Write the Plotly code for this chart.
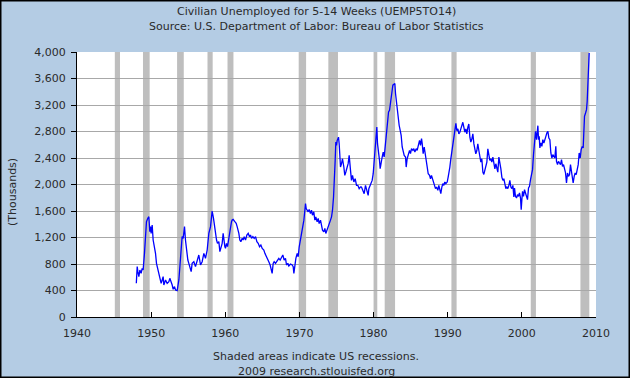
import plotly.graph_objects as go

# ---- data, decimal year / thousands ----
t_a = [1948.00, 1948.12, 1948.21, 1948.34, 1948.48, 1948.65, 1948.79, 1948.92, 1949.10, 1949.24,
       1949.37, 1949.55, 1949.69, 1949.82, 1949.91, 1950.00, 1950.14, 1950.27, 1950.45, 1950.59,
       1950.72, 1950.90, 1951.04, 1951.26, 1951.35, 1951.49, 1951.62, 1951.71, 1951.94, 1952.16,
       1952.39, 1952.52, 1952.70, 1952.84, 1952.97, 1953.15, 1953.29, 1953.51, 1953.74, 1953.96,
       1954.05, 1954.18, 1954.32, 1954.41, 1954.50, 1954.63, 1954.77, 1954.95, 1955.08, 1955.22,
       1955.40, 1955.53, 1955.76, 1955.98, 1956.21, 1956.43, 1956.66, 1956.88, 1957.11, 1957.33,
       1957.56, 1957.78, 1958.01]
v_a = [510, 760, 684, 609, 709, 659, 735, 709, 961, 1313,
       1439, 1489, 1514, 1288, 1364, 1263, 1389, 1162, 1062, 961,
       810, 735, 659, 584, 508, 559, 609, 483, 559, 508,
       533, 584, 533, 483, 418, 458, 408, 398, 559, 911,
       1112, 1213, 1187, 1263, 1364, 1162, 1011, 860, 810, 760,
       684, 810, 835, 760, 860, 936, 785, 835, 961, 886,
       1011, 1263, 1364]

t_b = [1958.14, 1958.23, 1958.41, 1958.55, 1958.68, 1958.82, 1958.95, 1959.13, 1959.27, 1959.40,
       1959.58, 1959.71, 1959.80, 1959.94, 1960.03, 1960.16, 1960.30, 1960.48, 1960.57, 1960.70,
       1960.84, 1960.93, 1961.06, 1961.29, 1961.47, 1961.60, 1961.74, 1961.83, 1961.96, 1962.10,
       1962.28, 1962.41, 1962.55, 1962.73, 1962.91, 1963.09, 1963.27, 1963.40, 1963.54, 1963.72,
       1963.90, 1964.08, 1964.26, 1964.44, 1964.62, 1964.80, 1964.98, 1965.20, 1965.34, 1965.51,
       1965.69, 1965.87, 1966.05, 1966.19, 1966.32, 1966.46, 1966.59, 1966.77, 1967.00, 1967.22,
       1967.40, 1967.58, 1967.76, 1967.94, 1968.12]
v_b = [1590, 1600, 1489, 1364, 1313, 1162, 1112, 1137, 986, 1062,
       1112, 1263, 1162, 1062, 1036, 1112, 1062, 1213, 1288, 1364,
       1439, 1464, 1474, 1439, 1414, 1364, 1313, 1263, 1162, 1137,
       1187, 1162, 1213, 1162, 1238, 1263, 1213, 1238, 1187, 1213,
       1187, 1213, 1137, 1112, 1062, 1087, 1036, 1011, 961, 911,
       860, 835, 785, 735, 659, 810, 835, 810, 850, 886,
       860, 911, 936, 860, 886]

t_c = [1968.26, 1968.44, 1968.57, 1968.80, 1969.02, 1969.16, 1969.25, 1969.38, 1969.52, 1969.70,
       1969.83, 1969.97, 1970.10, 1970.24, 1970.37, 1970.51, 1970.60, 1970.69, 1970.82, 1970.91,
       1971.05, 1971.18, 1971.31, 1971.49, 1971.63, 1971.76, 1971.94, 1972.08, 1972.21, 1972.39,
       1972.53, 1972.66, 1972.84, 1972.98, 1973.11, 1973.29, 1973.43, 1973.56, 1973.74, 1973.88,
       1974.01, 1974.19, 1974.33, 1974.46, 1974.60, 1974.73, 1974.82, 1974.91, 1975.00, 1975.09,
       1975.18, 1975.27, 1975.36, 1975.45, 1975.54, 1975.68, 1975.81, 1975.99, 1976.12, 1976.26,
       1976.44, 1976.57, 1976.71, 1976.80, 1976.89, 1977.02, 1977.16, 1977.34, 1977.52, 1977.70,
       1977.88, 1978.06, 1978.24]
v_c = [785, 810, 770, 800, 785, 760, 659, 810, 885, 960,
       910, 1060, 1136, 1261, 1336, 1361, 1462, 1562, 1712, 1637,
       1612, 1587, 1622, 1562, 1612, 1537, 1587, 1462, 1512, 1436,
       1487, 1411, 1462, 1361, 1311, 1286, 1336, 1261, 1311, 1361,
       1411, 1462, 1512, 1612, 1812, 2063, 2364, 2640, 2589, 2665,
       2690, 2715, 2615, 2414, 2264, 2314, 2389, 2264, 2138, 2188,
       2264, 2314, 2439, 2364, 2213, 2063, 2138, 2038, 2088, 1988,
       1988, 1938, 1963]

t_d = [1978.37, 1978.55, 1978.73, 1978.91, 1979.09, 1979.27, 1979.36, 1979.54, 1979.68, 1979.81,
       1979.95, 1980.08, 1980.22, 1980.35, 1980.44, 1980.53, 1980.67, 1980.80, 1980.89, 1981.03,
       1981.16, 1981.30, 1981.43, 1981.52, 1981.61, 1981.75, 1981.88, 1982.02, 1982.15, 1982.24,
       1982.38, 1982.51, 1982.60, 1982.74, 1982.87, 1982.96, 1983.05, 1983.18, 1983.32, 1983.45,
       1983.59, 1983.72, 1983.86, 1983.99, 1984.13, 1984.31, 1984.40, 1984.53, 1984.67, 1984.85,
       1984.98, 1985.12, 1985.30, 1985.43, 1985.57, 1985.75, 1985.88, 1986.02, 1986.20, 1986.33,
       1986.47, 1986.56, 1986.69, 1986.83, 1986.92, 1987.10, 1987.23, 1987.37, 1987.55, 1987.68,
       1987.81, 1987.99, 1988.13, 1988.26]
v_d = [1961, 1910, 1860, 1986, 1910, 1835, 1936, 1986, 2011, 2062,
       2163, 2364, 2566, 2743, 2869, 2616, 2516, 2364, 2238, 2364,
       2415, 2490, 2415, 2516, 2616, 2768, 2919, 3096, 3121, 3222,
       3373, 3423, 3499, 3514, 3524, 3373, 3272, 3171, 2944, 2894,
       2818, 2743, 2566, 2516, 2440, 2415, 2263, 2389, 2440, 2516,
       2465, 2541, 2516, 2541, 2490, 2541, 2516, 2566, 2667, 2591,
       2692, 2616, 2465, 2566, 2490, 2415, 2263, 2162, 2137, 2087,
       2137, 2062, 2036, 1961]

t_e = [1988.35, 1988.49, 1988.67, 1988.80, 1988.94, 1989.07, 1989.21, 1989.34, 1989.48, 1989.61,
       1989.75, 1989.93, 1990.06, 1990.20, 1990.29, 1990.42, 1990.56, 1990.69, 1990.83, 1990.96,
       1991.10, 1991.23, 1991.37, 1991.50, 1991.64, 1991.77, 1991.91, 1992.04, 1992.18, 1992.31,
       1992.45, 1992.58, 1992.72, 1992.85, 1992.99, 1993.12, 1993.26, 1993.39, 1993.53, 1993.66,
       1993.79, 1993.93, 1994.06, 1994.20, 1994.33, 1994.47, 1994.60, 1994.74, 1994.87, 1995.01,
       1995.14, 1995.28, 1995.41, 1995.55, 1995.68, 1995.82, 1995.95, 1996.09, 1996.22, 1996.36,
       1996.49, 1996.63, 1996.76, 1996.90, 1997.03, 1997.17, 1997.30, 1997.44, 1997.57, 1997.71,
       1997.84, 1997.98, 1998.11, 1998.25, 1998.38, 1998.52, 1998.65, 1998.79, 1998.92]
v_e = [1937, 1962, 1912, 1987, 1937, 1862, 1962, 2012, 1987, 2037,
       2012, 2037, 2112, 2187, 2263, 2388, 2513, 2613, 2714, 2814,
       2924, 2814, 2839, 2764, 2789, 2839, 2889, 2939, 2864, 2789,
       2839, 2764, 2864, 2914, 2714, 2639, 2689, 2764, 2613, 2538,
       2463, 2513, 2613, 2513, 2438, 2338, 2388, 2187, 2152, 2212,
       2263, 2338, 2538, 2463, 2363, 2388, 2338, 2413, 2288, 2237,
       2313, 2237, 2187, 2413, 2338, 2237, 2112, 2062, 2087, 1987,
       1937, 1962, 1937, 1987, 2062, 1962, 1937, 1987, 1812]

t_f = [1999.01, 1999.14, 1999.28, 1999.41, 1999.55, 1999.68, 1999.82, 1999.91, 2000.00, 2000.09,
       2000.22, 2000.36, 2000.49, 2000.63, 2000.76, 2000.90, 2001.03, 2001.17, 2001.30, 2001.44,
       2001.57, 2001.71, 2001.84, 2001.98, 2002.07, 2002.16, 2002.25, 2002.34, 2002.43, 2002.56,
       2002.70, 2002.83, 2002.97, 2003.10, 2003.24, 2003.37, 2003.51, 2003.64, 2003.78, 2003.91,
       2004.05, 2004.18, 2004.32, 2004.45, 2004.58, 2004.67, 2004.81, 2004.94, 2005.08, 2005.21,
       2005.35, 2005.48, 2005.62, 2005.75, 2005.89, 2006.02, 2006.16, 2006.29, 2006.43, 2006.56,
       2006.70, 2006.83, 2006.92, 2007.06, 2007.19, 2007.33, 2007.46, 2007.60, 2007.73, 2007.87,
       2008.00, 2008.14, 2008.27, 2008.36, 2008.45, 2008.59, 2008.72, 2008.81, 2008.90, 2009.00,
       2009.08]
v_f = [1947, 1822, 1796, 1847, 1822, 1872, 1796, 1620, 1771, 1897,
       1822, 1922, 1872, 1822, 1771, 1947, 1972, 2073, 2149, 2224,
       2450, 2677, 2803, 2677, 2828, 2888, 2677, 2727, 2551, 2627,
       2576, 2677, 2627, 2702, 2727, 2777, 2803, 2702, 2677, 2476,
       2400, 2450, 2425, 2400, 2576, 2350, 2300, 2350, 2325, 2300,
       2375, 2274, 2300, 2249, 2174, 2023, 2174, 2123, 2149, 2300,
       2199, 2123, 2023, 2123, 2174, 2149, 2224, 2300, 2476, 2400,
       2526, 2576, 2551, 2878, 3029, 3079, 3130, 3255, 3482, 3683,
       3985]

rec_start = [1945.1, 1948.9, 1953.5, 1957.6, 1960.3, 1969.9, 1973.9, 1980.0, 1981.5, 1990.5, 2001.2, 2007.9]
rec_end   = [1945.8, 1949.8, 1954.4, 1958.3, 1961.1, 1970.9, 1975.2, 1980.5, 1982.9, 1991.2, 2001.9, 2009.1]

x_ticks = [1940, 1950, 1960, 1970, 1980, 1990, 2000, 2010]
y_ticks = [0, 400, 800, 1200, 1600, 2000, 2400, 2800, 3200, 3600, 4000]

title1 = "Civilian Unemployed for 5-14 Weeks (UEMP5TO14)"
title2 = "Source: U.S. Department of Labor: Bureau of Labor Statistics"
note1 = "Shaded areas indicate US recessions."
note2 = "2009 research.stlouisfed.org"
y_title = "(Thousands)"

# ---- figure ----
W, H = 630, 378
ML, MR, MT, MB = 77, 34, 52, 61
PW, PH = W - ML - MR, H - MT - MB
BG = "#B4CCE4"
FONT = "DejaVu Sans"
TXT = "#2a2a2a"

def px_x(px):  # figure pixel -> paper x
    return (px - ML) / PW

def px_y(py):  # figure pixel (from top) -> paper y
    return (H - MB - py) / PH

t_all = t_a + t_b + t_c + t_d + t_e + t_f
v_all = v_a + v_b + v_c + v_d + v_e + v_f

fig = go.Figure()
fig.add_trace(go.Scatter(x=t_all, y=v_all, mode="lines",
                         line=dict(color="#0000FF", width=1.3),
                         hoverinfo="x+y", showlegend=False))

shapes = []
for s, e in zip(rec_start, rec_end):
    shapes.append(dict(type="rect", xref="x", yref="paper", x0=s, x1=e, y0=0, y1=1,
                       fillcolor="rgb(190,190,190)", line=dict(width=0), layer="between"))
# outer black border of the image
shapes.append(dict(type="rect", xref="paper", yref="paper",
                   x0=px_x(0.75), x1=px_x(W - 0.75), y0=px_y(H - 0.75), y1=px_y(0.75),
                   line=dict(color="black", width=1.5), fillcolor="rgba(0,0,0,0)", layer="above"))

annotations = [
    dict(text=title1, xref="paper", yref="paper", x=px_x(316), y=px_y(11), showarrow=False,
         xanchor="center", yanchor="middle", font=dict(family=FONT, size=11, color=TXT)),
    dict(text=title2, xref="paper", yref="paper", x=px_x(316), y=px_y(26), showarrow=False,
         xanchor="center", yanchor="middle", font=dict(family=FONT, size=11, color=TXT)),
    dict(text=note1, xref="paper", yref="paper", x=px_x(316), y=px_y(356), showarrow=False,
         xanchor="center", yanchor="middle", font=dict(family=FONT, size=11, color=TXT)),
    dict(text=note2, xref="paper", yref="paper", x=px_x(316), y=px_y(371), showarrow=False,
         xanchor="center", yanchor="middle", font=dict(family=FONT, size=11, color=TXT)),
    dict(text=y_title, xref="paper", yref="paper", x=px_x(12), y=px_y(192), showarrow=False,
         textangle=-90, xanchor="center", yanchor="middle", font=dict(family=FONT, size=11, color=TXT)),
]

fig.update_layout(
    width=W, height=H,
    margin=dict(l=ML, r=MR, t=MT, b=MB, pad=0),
    paper_bgcolor=BG, plot_bgcolor="white",
    font=dict(family=FONT, size=11, color=TXT),
    shapes=shapes, annotations=annotations,
    showlegend=False,
    xaxis=dict(range=[1940, 2010], tickmode="array", tickvals=x_ticks,
               ticktext=[str(v) for v in x_ticks],
               showgrid=False, zeroline=False, showline=True, linecolor="black", linewidth=1,
               ticks="inside", ticklen=5, tickcolor="black", tickwidth=1,
               tickfont=dict(family=FONT, size=11, color=TXT), ticklabelstandoff=6),
    yaxis=dict(range=[0, 4000], tickmode="array", tickvals=y_ticks,
               ticktext=[f"{v:,}" for v in y_ticks],
               showgrid=True, gridcolor="#A8A8A8", gridwidth=1,
               zeroline=False, showline=True, linecolor="black", linewidth=1,
               ticks="outside", ticklen=5, tickcolor="black", tickwidth=1,
               tickfont=dict(family=FONT, size=11, color=TXT), ticklabelstandoff=3),
)

fig.write_html("out.html", config={"displayModeBar": False},
               post_script="document.body.style.margin='0px';document.body.style.padding='0px';")
